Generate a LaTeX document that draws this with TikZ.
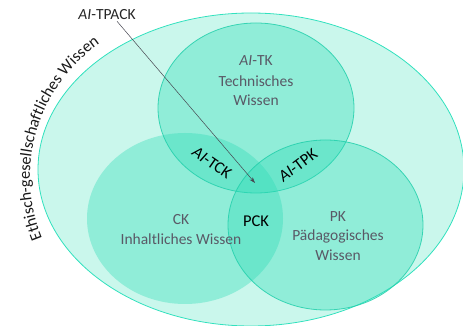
\documentclass[tikz,border=0pt]{standalone}
\usepackage{fontspec}
\setmainfont{Carlito}
\usetikzlibrary{arrows.meta,decorations.text}
\definecolor{outerfill}{RGB}{202,247,236}
\definecolor{outerline}{RGB}{50,225,190}
\definecolor{teal}{RGB}{45,220,183}
\definecolor{tealline}{RGB}{35,208,172}
\definecolor{txtgray}{RGB}{89,89,102}
\definecolor{arrgray}{RGB}{70,70,80}
\tikzset{
  setfill/.style={fill=teal,fill opacity=0.37},
  setline/.style={draw=tealline,line width=0.8pt,draw opacity=0.85},
  lbl/.style={font=\fontsize{15.5}{18}\selectfont,text=txtgray,align=center,inner sep=0pt},
  blk/.style={font=\fontsize{16.5}{19}\selectfont,text=black,inner sep=0pt},
}
\begin{document}
\begin{tikzpicture}[x=1pt,y=1pt]
\useasboundingbox (0,0) rectangle (463,326);
\begin{scope}
\clip (0,0) rectangle (463,326);
\fill[outerfill] (251,156.5) ellipse[x radius=213,y radius=156.5];
\draw[outerline,line width=0.8pt] (251,156.5) ellipse[x radius=213,y radius=156.5];
\fill[setfill] (185,107.5) ellipse[x radius=98,y radius=85.5];
\fill[setfill] (256,218) ellipse[x radius=98,y radius=85];
\draw[setline] (256,218) ellipse[x radius=98,y radius=85];
\fill[setfill] (325.5,101) ellipse[x radius=97.5,y radius=85];
\draw[setline] (325.5,101) ellipse[x radius=97.5,y radius=85];
\end{scope}
% labels
\node[lbl] (tk1) at (256,265) {\textit{AI}-TK};
\node[lbl] (tk2) at (256,245) {Technisches};
\node[lbl] (tk3) at (256,226) {Wissen};
\node[lbl] (ck1) at (181,106) {CK};
\node[lbl] (ck2) at (181,87) {Inhaltliches Wissen};
\node[lbl] (pk1) at (338,109) {PK};
\node[lbl] (pk2) at (338,90) {Pädagogisches};
\node[lbl] (pk3) at (338,71) {Wissen};
\node[blk] (pck) at (256,105) {PCK};
\node[blk,rotate=-35] (tck) at (212,163) {\textit{AI}-TCK};
\node[blk,rotate=37] (tpk) at (298,161) {\textit{AI}-TPK};
\node[font=\fontsize{15.5}{18}\selectfont,inner sep=1pt,text=black!85] (tpack) at (107,311) {\textit{AI}-TPACK};
\coordinate (tip) at (255,143);
\draw[arrgray,line width=0.5pt,-{Stealth[length=6pt,width=4pt]}] ([xshift=10pt]tpack.south) -- (tip);
% curved outer label
\path[decorate,decoration={text along path,text align=center,
  text={|\fontsize{16.3}{19}\selectfont\color{black!90}|Ethisch-gesellschaftliches Wissen}}]
  (192,149) ++(208:162) arc[start angle=208,end angle=119,radius=162];
\end{tikzpicture}
\end{document}
